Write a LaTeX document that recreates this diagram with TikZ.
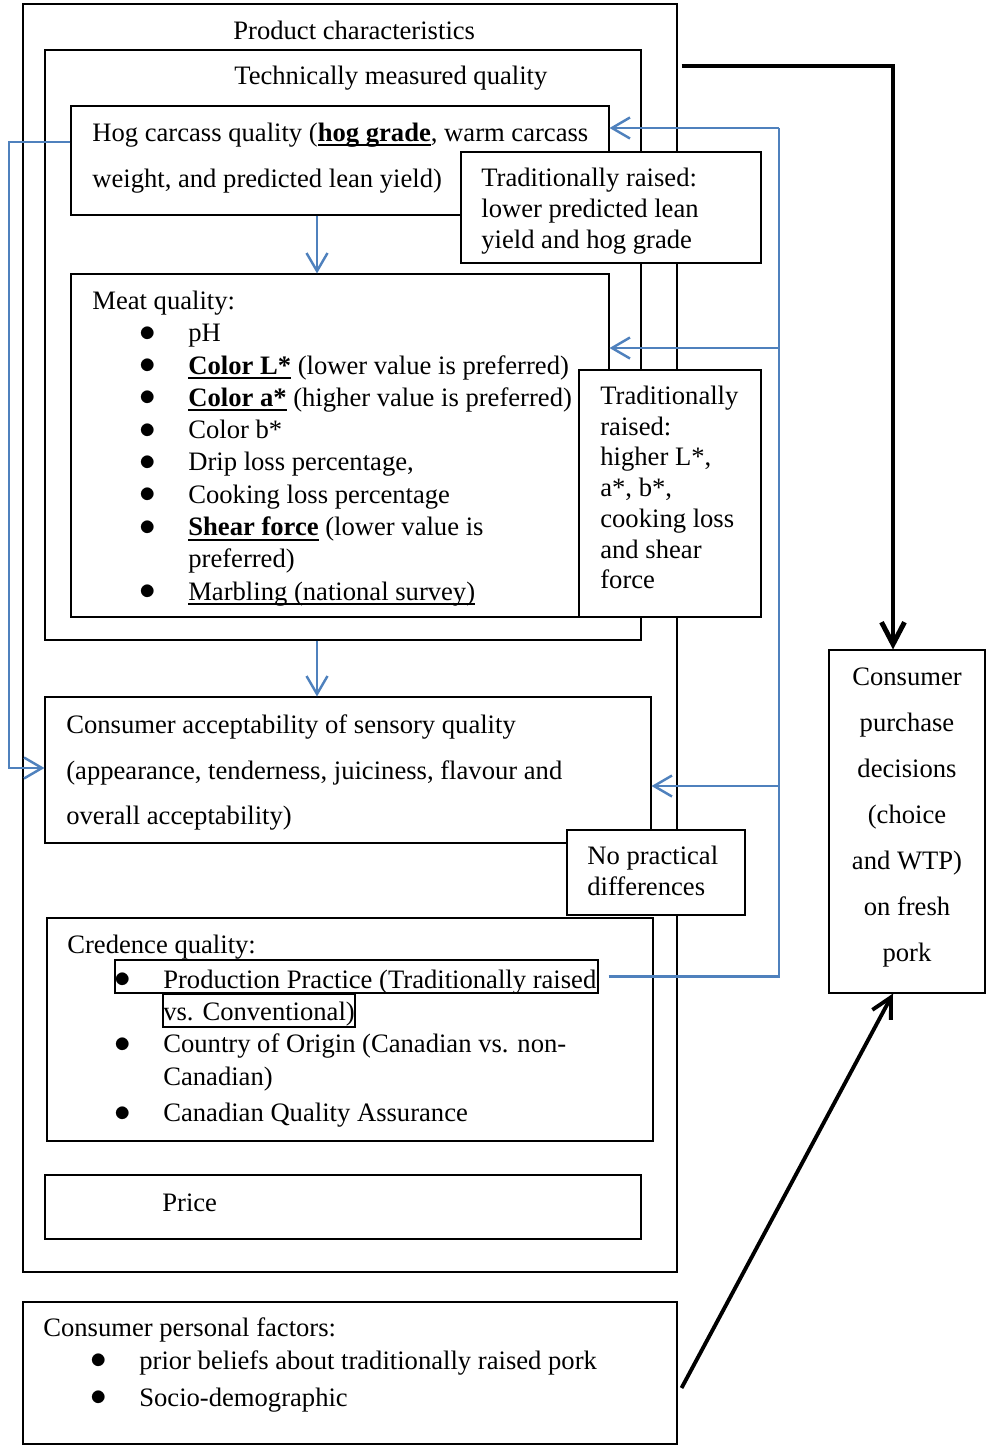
\documentclass[tikz,border=0pt]{standalone}
\usepackage{fontspec}
\setmainfont{Liberation Serif}
\usepackage{graphicx}
\usetikzlibrary{arrows.meta,fit,positioning}
\definecolor{linkblue}{RGB}{79,129,189}
\newcommand{\ulword}[1]{\setbox0\hbox{#1}\rlap{\rule[-2.8pt]{\wd0}{1.1pt}}\box0}
\newcommand{\bitem}{\makebox[1.92cm][l]{\hspace{0.95cm}\raisebox{0.2pt}{\scalebox{1.3}{$\bullet$}}}}
\newcommand{\bpad}{\hspace*{1.92cm}}
\newcommand{\topstrut}{\rule{0pt}{0.4cm}}

\begin{document}
\begin{tikzpicture}[
  x=0.02cm, y=-0.02cm,
  box/.style={rectangle, draw, line width=0.6pt, inner sep=0pt},
  whitebox/.style={box, fill=white},
  txt/.style={inner sep=0pt, align=left, anchor=north west, font=\fontsize{15.15}{18.4}\selectfont},
  heading/.style={inner sep=0pt, anchor=base west, font=\fontsize{15.15}{18.4}\selectfont},
  blueline/.style={draw=linkblue, line width=1.4pt},
  bluearrow/.style={blueline, -{Straight Barb[length=0.36cm,width=0.42cm]}},
  boldarrow/.style={line width=2.8pt, -{Straight Barb[length=0.44cm,width=0.46cm]}},
  slimarrow/.style={line width=2.2pt, -{Straight Barb[length=0.4cm,width=0.42cm]}}
]
\useasboundingbox (0,0) rectangle (986,1446);

% Product characteristics
\node[box, fit={(23,4) (677,1272)}] (prod) {};
\node[heading] (prodtitle) at (233,40) {Product characteristics};
\node[box, fit={(45,50) (641,640)}] (tech) {};
\node[heading] (techtitle) at (234,85) {Technically measured quality};

% Hog carcass and meat quality
\node[box, fit={(71,106) (609,215)}] (hog) {};
\node[txt, font=\fontsize{15.15}{26.5}\selectfont] (hogtext) at (92,121)
  {\topstrut Hog carcass quality (\textbf{\ulword{hog grade}}, warm carcass\\
   weight, and predicted lean yield)};
\node[box, fit={(71,274) (609,617)}] (meat) {};
\node[txt] (meattext) at (92,289)
  {\topstrut Meat quality:\\
   \bitem pH\\
   \bitem\textbf{\ulword{Color L*}} (lower value is preferred)\\
   \bitem\textbf{\ulword{Color a*}} (higher value is preferred)\\
   \bitem Color b*\\
   \bitem Drip loss percentage,\\
   \bitem Cooking loss percentage\\
   \bitem\textbf{\ulword{Shear force}} (lower value is\\
   \bpad preferred)\\
   \bitem\ulword{Marbling (national survey)}};

% Results boxes
\node[whitebox, fit={(461,152) (761,263)}] (tradhog) {};
\node[txt, font=\fontsize{15.15}{17.7}\selectfont] (tradhogtext) at (481,166)
  {\topstrut Traditionally raised:\\lower predicted lean\\yield and hog grade};
\node[whitebox, fit={(579,370) (761,617)}] (tradmeat) {};
\node[txt, font=\fontsize{15.15}{17.5}\selectfont] (tradmeattext) at (600,384)
  {\topstrut Traditionally\\raised:\\higher L*,\\a*, b*,\\cooking loss\\and shear\\force};

% Sensory quality
\node[box, fit={(45,697) (651,843)}] (accept) {};
\node[txt, font=\fontsize{15.15}{26}\selectfont] (accepttext) at (66,713)
  {\topstrut Consumer acceptability of sensory quality\\
   (appearance, tenderness, juiciness, flavour and\\
   overall acceptability)};
\node[whitebox, fit={(567,830) (745,915)}] (nodiff) {};
\node[txt, font=\fontsize{15.15}{18}\selectfont] (nodifftext) at (587,844)
  {\topstrut No practical\\differences};

% Credence quality
\node[box, fit={(47,918) (653,1141)}] (cred) {};
\node[txt] (credtext) at (67,933)
  {\topstrut Credence quality:\\[0.05cm]
   \bitem Production Practice (Traditionally raised\\
   \bpad vs. Conventional)\\
   \bitem Country of Origin (Canadian vs. non-\\
   \bpad Canadian)\\[0.09cm]
   \bitem Canadian Quality Assurance};
\node[box, fit={(115,960) (598,993)}] (practice) {};
\node[box, fit={(163,994) (355,1027)}] (practicevs) {};

% Price
\node[box, fit={(45,1175) (641,1239)}] (price) {};
\node[heading] (pricetext) at (162,1211) {Price};

% Consumer personal factors
\node[box, fit={(23,1302) (677,1444)}] (personal) {};
\node[txt, font=\fontsize{15.15}{18.7}\selectfont] (personaltext) at (43,1316)
  {\topstrut Consumer personal factors:\\
   \bitem prior beliefs about traditionally raised pork\\[0.08cm]
   \bitem Socio-demographic};

% Purchase decisions
\node[box, fit={(829,650) (985,993)}] (purchase) {};
\node[txt, align=center, anchor=north, font=\fontsize{15.15}{26.2}\selectfont] (purchasetext) at (907,665)
  {\topstrut Consumer\\purchase\\decisions\\(choice\\and WTP)\\on fresh\\pork};

% Blue links
\coordinate (bustop) at (779,128);
\coordinate (busmeat) at (779,348);
\coordinate (busaccept) at (779,786);
\coordinate (leftturn) at (9,142);
\coordinate (leftdown) at (9,768);
\coordinate (hogdrop) at ([xshift=-0.46cm]hog.south);
\coordinate (techdrop) at ([xshift=-0.52cm]tech.south);
\draw[blueline] ([xshift=0.2cm]practice.east) -| (bustop);
\draw[bluearrow] (bustop) -- (hog.east |- bustop);
\draw[bluearrow] (busmeat) -- (meat.east |- busmeat);
\draw[bluearrow] (busaccept) -- (accept.east |- busaccept);
\draw[bluearrow] (hog.west |- leftturn) -- (leftturn) -- (leftdown) -- (accept.west |- leftdown);
\draw[bluearrow] (hogdrop) -- (hogdrop |- meat.north);
\draw[bluearrow] (techdrop) -- (techdrop |- accept.north);

% Black links
\coordinate (rightturn) at (893,66);
\coordinate (prodexit) at ([xshift=0.08cm]prod.east);
\coordinate (personalexit) at ([shift={(4,15)}]personal.east);
\draw[boldarrow] (prodexit |- rightturn) -- (rightturn) -- (purchase.north -| rightturn);
\draw[slimarrow] (personalexit) -- (purchase.south -| rightturn);

\end{tikzpicture}
\end{document}
